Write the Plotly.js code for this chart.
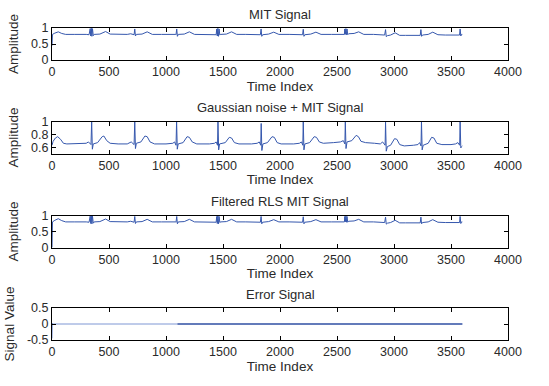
<!DOCTYPE html>
<html>
<head>
<meta charset="utf-8">
<script src="https://cdn.plot.ly/plotly-3.0.1.min.js"></script>
<style>html,body{margin:0;padding:0;background:#fff;}#chart{width:549px;height:386px;}</style>
</head>
<body>
<div id="chart"></div>
<script>
// ---- data ----
var xTickVals = [0, 500, 1000, 1500, 2000, 2500, 3000, 3500, 4000];
var panelTitles = ["MIT Signal", "Gaussian noise + MIT Signal", "Filtered RLS MIT Signal", "Error Signal"];
var yTitles = ["Amplitude", "Amplitude", "Amplitude", "Signal Value"];

var mitT = [0,4,25,55,85,120,200,280,300,
  325,335,340,345,350,355,362,370,420,470,510,560,660,690,710,
  720,726,732,740,790,835,880,960,1050,1065,1085,
  1088,1094,1100,1108,1160,1205,1250,1330,1410,1430,1440,
  1445,1450,1455,1460,1466,1472,1480,1530,1575,1620,1700,1790,1810,1828,
  1834,1840,1848,1900,1945,1990,2080,2160,2180,2198,
  2204,2210,2218,2270,2315,2360,2450,2530,2555,2565,
  2568,2573,2578,2583,2588,2594,2602,2650,2690,2735,2820,2890,2910,2918,
  2926,2932,2942,2970,3010,3050,3100,3180,3215,3230,
  3236,3242,3250,3300,3340,3385,3450,3520,3560,3575,
  3580,3586,3592,3599];
var mitY = [0.45,0.80,0.84,0.88,0.83,0.80,0.80,0.81,0.80,
  0.79,0.98,0.75,0.99,0.74,0.98,0.76,0.80,0.81,0.89,0.81,0.80,0.80,0.82,0.80,
  0.79,0.97,0.75,0.80,0.81,0.88,0.80,0.80,0.80,0.82,0.80,
  0.79,0.97,0.74,0.80,0.81,0.88,0.80,0.80,0.80,0.81,0.79,
  0.97,0.75,0.99,0.74,0.97,0.78,0.80,0.81,0.88,0.80,0.80,0.80,0.81,0.79,
  0.97,0.74,0.79,0.81,0.87,0.80,0.80,0.80,0.81,0.79,
  0.96,0.74,0.79,0.81,0.87,0.80,0.80,0.81,0.82,0.80,
  0.97,0.80,0.98,0.79,0.97,0.79,0.82,0.83,0.88,0.80,0.80,0.80,0.79,0.78,
  0.95,0.73,0.76,0.78,0.85,0.77,0.77,0.77,0.78,0.77,
  0.95,0.74,0.78,0.80,0.87,0.79,0.78,0.78,0.79,0.78,
  0.97,0.75,0.80,0.80];

var noisyT = [0,10,30,50,75,100,130,200,260,300,320,335,
  342,348,354,362,400,440,455,480,510,580,660,695,712,
  720,726,732,740,780,815,835,860,900,1000,1060,1075,1085,
  1088,1093,1099,1107,1150,1185,1205,1230,1270,1380,1425,1440,1448,
  1452,1456,1462,1470,1520,1555,1575,1600,1640,1750,1800,1818,1828,
  1831,1835,1841,1850,1890,1930,1950,1975,2010,2120,2170,2188,2197,
  2200,2204,2210,2218,2260,2300,2320,2345,2380,2470,2530,2555,2565,
  2569,2573,2579,2588,2630,2668,2688,2710,2750,2830,2880,2900,2912,
  2922,2926,2932,2942,2970,3005,3025,3050,3090,3170,3210,3225,3234,
  3237,3241,3247,3256,3300,3330,3350,3375,3420,3500,3540,3560,3572,
  3576,3580,3586,3593,3599];
var noisyY = [0.64,0.70,0.75,0.77,0.73,0.67,0.66,0.66,0.66,0.67,0.69,0.66,
  0.65,1.00,0.58,0.66,0.68,0.77,0.78,0.71,0.67,0.66,0.66,0.69,0.66,
  0.65,1.00,0.59,0.67,0.69,0.78,0.77,0.69,0.66,0.66,0.67,0.69,0.66,
  0.64,1.00,0.58,0.66,0.68,0.77,0.76,0.69,0.66,0.66,0.67,0.69,0.66,
  0.64,1.00,0.57,0.66,0.68,0.76,0.75,0.68,0.66,0.66,0.67,0.69,0.66,
  0.64,0.97,0.56,0.66,0.68,0.77,0.76,0.68,0.66,0.66,0.67,0.69,0.66,
  0.64,1.00,0.57,0.66,0.68,0.77,0.76,0.69,0.67,0.68,0.69,0.71,0.68,
  0.66,1.00,0.59,0.69,0.71,0.79,0.77,0.70,0.68,0.67,0.66,0.69,0.66,
  0.64,0.99,0.55,0.62,0.64,0.74,0.73,0.65,0.63,0.64,0.65,0.68,0.65,
  0.63,1.00,0.57,0.64,0.67,0.76,0.75,0.67,0.65,0.65,0.66,0.68,0.64,
  0.64,1.00,0.60,0.62,0.63];

var rlsT = [0,4,25,55,85,120,200,280,300,
  325,335,340,345,350,355,362,370,420,470,510,560,660,690,710,
  720,726,732,740,790,835,880,960,1050,1065,1085,
  1088,1094,1100,1108,1160,1205,1250,1330,1410,1430,1440,
  1445,1450,1455,1460,1466,1472,1480,1530,1575,1620,1700,1790,1810,1828,
  1834,1840,1848,1900,1945,1990,2080,2160,2180,2198,
  2204,2210,2218,2270,2315,2360,2450,2530,2555,2565,
  2568,2573,2578,2583,2588,2594,2602,2650,2690,2735,2820,2890,2910,2918,
  2926,2932,2942,2970,3010,3050,3100,3180,3215,3230,
  3236,3242,3250,3300,3340,3385,3450,3520,3560,3575,
  3580,3586,3592,3599];
var rlsY = [0.00,0.80,0.85,0.90,0.84,0.80,0.80,0.81,0.80,
  0.79,0.98,0.75,0.99,0.74,0.98,0.76,0.80,0.81,0.89,0.81,0.80,0.80,0.82,0.80,
  0.79,0.97,0.75,0.80,0.81,0.88,0.80,0.80,0.80,0.82,0.80,
  0.79,0.97,0.74,0.80,0.81,0.88,0.80,0.80,0.80,0.81,0.79,
  0.97,0.75,0.99,0.74,0.97,0.78,0.80,0.81,0.88,0.80,0.80,0.80,0.81,0.79,
  0.97,0.74,0.79,0.81,0.87,0.80,0.80,0.80,0.81,0.79,
  0.96,0.74,0.79,0.81,0.87,0.80,0.80,0.81,0.82,0.80,
  0.97,0.80,0.98,0.79,0.97,0.79,0.82,0.83,0.88,0.80,0.80,0.80,0.79,0.78,
  0.95,0.73,0.76,0.78,0.85,0.77,0.77,0.77,0.78,0.77,
  0.95,0.74,0.78,0.80,0.87,0.79,0.78,0.78,0.79,0.78,
  0.97,0.75,0.80,0.80];

var errT1 = [0,1,3,6,12,1100];
var errY1 = [-0.45,0.00,0.03,0.00,0.00,0.00];
var errT2 = [1100,3600];
var errY2 = [0.00,0.00];

var yRanges = [[0,1],[0.515,1],[0,1],[-0.5,0.5]];
var yTicks = [[0,0.5,1],[0.6,0.8,1],[0,0.5,1],[-0.5,0,0.5]];

// ---- layout ----
var W = 549, H = 386;
var mL = 52, mR = 41, mT = 28, mB = 46;
var plotH = H - mT - mB;
var tops = [28, 121.5, 215.5, 308];
var boxH = 32;
var lineColor = '#3557ad';
var fam = 'Liberation Sans, Arial, sans-serif';
var txt = '#2a2a2a';
var tickFont = {family: fam, size: 12.5, color: txt};

function dom(top) {
  var y1 = (H - mB - top) / plotH;
  var y0 = (H - mB - top - boxH) / plotH;
  return [Math.max(0, y0), Math.min(1, y1)];
}

var traces = [
  {x: mitT, y: mitY, xaxis: 'x', yaxis: 'y'},
  {x: noisyT, y: noisyY, xaxis: 'x2', yaxis: 'y2'},
  {x: rlsT, y: rlsY, xaxis: 'x3', yaxis: 'y3'},
  {x: errT1, y: errY1, xaxis: 'x4', yaxis: 'y4', line: {color: '#7f97d4', width: 1}},
  {x: errT2, y: errY2, xaxis: 'x4', yaxis: 'y4', line: {color: '#2f4fa3', width: 1.6}}
].map(function (t) {
  t.type = 'scatter'; t.mode = 'lines';
  t.line = t.line || {color: lineColor, width: 1};
  t.showlegend = false; t.hoverinfo = 'skip';
  return t;
});

var layout = {
  width: W, height: H,
  margin: {l: mL, r: mR, t: mT, b: mB, pad: 0},
  paper_bgcolor: '#fff', plot_bgcolor: '#fff',
  font: {family: fam, size: 12.5, color: txt}, showlegend: false,
  annotations: []
};

for (var i = 0; i < 4; i++) {
  var sfx = i === 0 ? '' : String(i + 1);
  layout['xaxis' + sfx] = {
    domain: [0, 1], range: [0, 4000], anchor: 'y' + sfx,
    tickvals: xTickVals, ticktext: xTickVals.map(String),
    ticks: 'inside', ticklen: 4, tickcolor: '#000', tickwidth: 1,
    showline: true, linecolor: '#000', linewidth: 1, mirror: 'ticks',
    showgrid: false, zeroline: false,
    tickfont: tickFont,
    title: {text: 'Time Index', font: {family: fam, size: 13.5, color: txt}, standoff: 1}
  };
  layout['yaxis' + sfx] = {
    domain: dom(tops[i]), range: yRanges[i], anchor: 'x' + sfx,
    tickvals: yTicks[i], ticktext: yTicks[i].map(String),
    ticks: 'inside', ticklen: 4, tickcolor: '#000', tickwidth: 1,
    showline: true, linecolor: '#000', linewidth: 1, mirror: 'ticks',
    showgrid: false, zeroline: false,
    tickfont: tickFont,
    title: {text: yTitles[i], font: {family: fam, size: 13.5, color: txt}, standoff: 9}
  };
  layout.annotations.push({
    text: panelTitles[i], xref: 'paper', yref: 'paper',
    x: 0.5, y: dom(tops[i])[1], xanchor: 'center', yanchor: 'middle',
    yshift: 14, showarrow: false,
    font: {family: fam, size: 13, color: txt}
  });
}

Plotly.newPlot('chart', traces, layout, {displayModeBar: false, staticPlot: true});
</script>
</body>
</html>
